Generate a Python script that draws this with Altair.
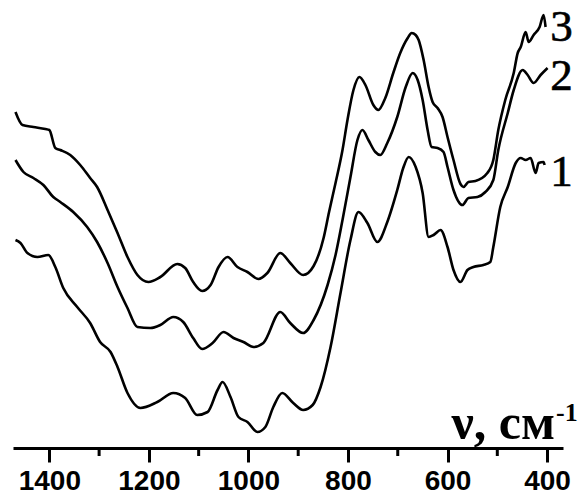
import altair as alt
import pandas as pd

# wavenumber (cm^-1) and intensity (arbitrary units)
wn3 = [1468, 1454, 1432, 1408, 1400, 1388, 1378, 1358, 1338, 1318, 1304, 1283, 1263, 1243, 1223, 1201,
       1177, 1143, 1127, 1111, 1093, 1076, 1060, 1042, 1022, 1002, 980, 962, 936, 916, 890, 869, 849,
       838, 825, 811, 801, 789, 777, 765, 749, 739, 725, 709, 695, 680, 672, 664, 658, 648, 638, 630,
       620, 610, 600, 588, 574, 568, 558, 544, 520, 508, 498, 484, 467, 459, 453, 443, 437, 427, 415,
       407, 403]
t3 = [336, 323, 321, 319, 318, 300, 298, 293, 283, 270, 261, 238, 215, 191, 173, 166,
      171, 184, 180, 166, 157, 163, 181, 191, 181, 176, 169, 175, 195, 185, 173, 182, 210,
      236, 265, 298, 328, 358, 371, 363, 343, 338, 350, 375, 395, 410, 415, 413, 408, 388, 361, 346,
      340, 331, 311, 288, 264, 261, 266, 267, 275, 288, 318, 348, 375, 395, 401, 416, 406, 413, 421,
      433, 421]

wn2 = [1468, 1452, 1432, 1412, 1392, 1378, 1352, 1324, 1304, 1283, 1263, 1243, 1223, 1197, 1177, 1151,
       1131, 1111, 1093, 1072, 1050, 1030, 1010, 990, 970, 936, 916, 890, 869, 841, 825, 811, 795,
       781, 771, 759, 745, 735, 721, 701, 684, 670, 660, 650, 640, 632, 620, 608, 600, 588, 570, 558,
       540, 524, 508, 498, 479, 467, 449, 439, 427, 413, 399]
t2 = [288, 276, 270, 263, 251, 246, 236, 221, 206, 185, 161, 140, 121, 120, 123, 131,
      126, 110, 99, 105, 116, 110, 106, 101, 105, 136, 125, 115, 128, 163, 193, 228, 271,
      308, 318, 308, 296, 293, 305, 331, 361, 375, 368, 348, 318, 301, 300, 296, 281, 258, 243, 250,
      251, 256, 268, 298, 335, 358, 378, 373, 365, 373, 380]

wn1 = [1468, 1458, 1444, 1424, 1402, 1388, 1372, 1344, 1318, 1298, 1277, 1263, 1243, 1217, 1183, 1151,
       1127, 1103, 1082, 1062, 1052, 1036, 1020, 1002, 982, 966, 950, 932, 910, 890, 871, 855, 835,
       815, 795, 779, 761, 741, 721, 701, 689, 678, 664, 650, 638, 628, 614, 600, 588, 574, 560, 548,
       528, 514, 508, 494, 479, 463, 453, 443, 433, 423, 417, 407, 405]
t1 = [208, 205, 195, 191, 193, 181, 160, 141, 125, 106, 96, 81, 55, 40, 46, 55,
      50, 33, 36, 58, 66, 51, 31, 26, 16, 21, 41, 55, 45, 38, 43, 61, 101,
      155, 208, 236, 225, 206, 226, 258, 280, 291, 281, 255, 211, 213, 218, 201, 178, 166, 178, 181,
      183, 186, 201, 241, 261, 285, 290, 288, 290, 275, 285, 286, 283]

series_names = ["1", "2", "3"]
label_wn = [371, 371, 371]
label_t = [276, 372, 421]

major_ticks = [1400, 1200, 1000, 800, 600, 400]
minor_ticks = [1300, 1100, 900, 700, 500]

rows = []
for name, wn, t in (("1", wn1, t1), ("2", wn2, t2), ("3", wn3, t3)):
    for a, b in zip(wn, t):
        rows.append({"wn": a, "t": b, "series": name})
df = pd.DataFrame(rows)

xscale = alt.Scale(domain=[1473, 368], nice=False, zero=False)
yscale = alt.Scale(domain=[0, 448], nice=False, zero=False)

lines = alt.Chart(df).mark_line(color="black", strokeWidth=2.6, interpolate="monotone").encode(
    x=alt.X("wn:Q", scale=xscale,
            axis=alt.Axis(values=major_ticks, title=None, grid=False, domainColor="black",
                          domainWidth=3, tickColor="black", tickWidth=3, tickSize=14,
                          labelFont="Liberation Sans", labelFontWeight="bold", labelFontSize=28,
                          labelColor="black", labelPadding=5, format="d")),
    y=alt.Y("t:Q", scale=yscale, axis=None),
    detail="series:N",
)

minor = alt.Chart(pd.DataFrame({"wn": minor_ticks})).mark_rule(color="black", strokeWidth=3).encode(
    x=alt.X("wn:Q", scale=xscale),
    y=alt.value(448),
    y2=alt.value(456),
)

labels = alt.Chart(pd.DataFrame({"wn": label_wn, "t": label_t, "name": series_names})).mark_text(
    font="Liberation Serif", fontSize=45, color="black", align="center", baseline="middle",
    stroke="black", strokeWidth=0.6
).encode(
    x=alt.X("wn:Q", scale=xscale),
    y=alt.Y("t:Q", scale=yscale),
    text="name:N",
)

title_main = alt.Chart(pd.DataFrame({"s": ["ν, см"]})).mark_text(
    font="Liberation Serif", fontSize=50, fontWeight="bold", color="black",
    align="right", baseline="alphabetic"
).encode(x=alt.value(542), y=alt.value(439), text="s:N")

title_sup = alt.Chart(pd.DataFrame({"s": ["-1"]})).mark_text(
    font="Liberation Serif", fontSize=26, fontWeight="bold", color="black",
    align="left", baseline="alphabetic"
).encode(x=alt.value(543), y=alt.value(421), text="s:N")

chart = alt.layer(lines, minor, labels, title_main, title_sup).properties(
    width=550, height=448,
    autosize=alt.AutoSizeParams(type="none"),
    padding={"left": 13, "top": 0, "right": 17, "bottom": 56},
    background="white",
).configure_view(strokeWidth=0)

chart.save("out.html", embed_options={"renderer": "svg", "actions": False})
